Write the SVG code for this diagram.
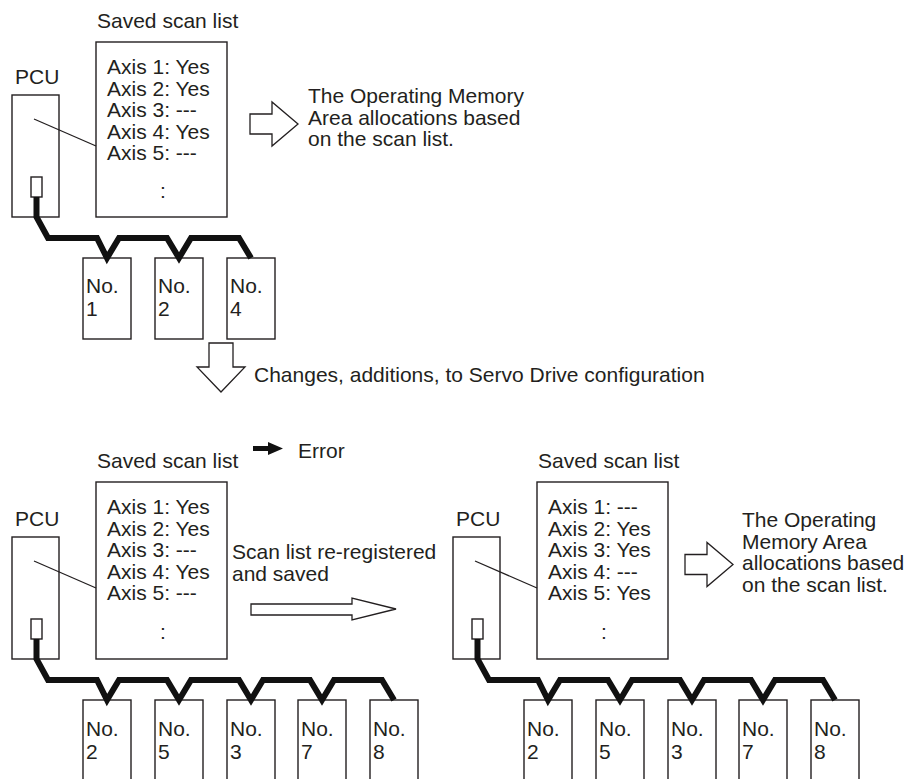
<svg xmlns="http://www.w3.org/2000/svg" width="906" height="779" viewBox="0 0 906 779">
<style>
text{font-family:"Liberation Sans",Arial,Helvetica,sans-serif;font-size:21px;fill:#231f20}
.box{fill:#fff;stroke:#231f20;stroke-width:1.4}
.ln{fill:none;stroke:#231f20;stroke-width:1.3}
.cable{fill:none;stroke:#111;stroke-width:6;stroke-linejoin:miter;stroke-miterlimit:3}
.harrow{fill:#fff;stroke:#231f20;stroke-width:1.3;stroke-linejoin:miter}
</style>
<rect width="906" height="779" fill="#fff"/>

<!-- Top section -->
<g id="top-pcu">
  <text x="15" y="84">PCU</text>
  <rect class="box" x="12" y="95" width="47" height="122"/>
  <rect class="box" x="31" y="177" width="11" height="20"/>
</g>
<g id="top-scanlist">
  <text x="97" y="28">Saved scan list</text>
  <rect class="box" x="96" y="42" width="131" height="175"/>
  <text x="107" y="74">Axis 1: Yes</text>
  <text x="107" y="95.5">Axis 2: Yes</text>
  <text x="107" y="117">Axis 3: ---</text>
  <text x="107" y="138.5">Axis 4: Yes</text>
  <text x="107" y="160">Axis 5: ---</text>
  <text x="160" y="198">:</text>
</g>
<g id="top-servo1"><rect class="box" x="83" y="258" width="48" height="81"/><text x="86" y="293">No.</text><text x="86" y="316">1</text></g>
<g id="top-servo2"><rect class="box" x="155" y="258" width="48" height="81"/><text x="158" y="293">No.</text><text x="158" y="316">2</text></g>
<g id="top-servo4"><rect class="box" x="227" y="258" width="48" height="81"/><text x="230" y="293">No.</text><text x="230" y="316">4</text></g>
<g id="top-result">
  <polygon class="harrow" points="250,114 272,114 272,102 298,124 272,146 272,134 250,134"/>
  <text x="308" y="103">The Operating Memory</text>
  <text x="308" y="124.5">Area allocations based</text>
  <text x="308" y="146">on the scan list.</text>
</g>

<!-- Change arrow -->
<g id="change">
  <polygon class="harrow" points="209,343 233,343 233,367 245,367 221,392 197,367 209,367"/>
  <text x="254" y="382">Changes, additions, to Servo Drive configuration</text>
</g>

<!-- Bottom-left section -->
<g id="bl-pcu">
  <text x="15" y="526">PCU</text>
  <rect class="box" x="12" y="537" width="47" height="122"/>
  <rect class="box" x="31" y="619" width="11" height="20"/>
</g>
<g id="bl-scanlist">
  <text x="97" y="468">Saved scan list</text>
  <rect class="box" x="96" y="482" width="131" height="177"/>
  <text x="107" y="514">Axis 1: Yes</text>
  <text x="107" y="535.5">Axis 2: Yes</text>
  <text x="107" y="557">Axis 3: ---</text>
  <text x="107" y="578.5">Axis 4: Yes</text>
  <text x="107" y="600">Axis 5: ---</text>
  <text x="160" y="639">:</text>
</g>
<g id="error">
  <polygon points="253,446 268,446 268,442 283,448.5 268,455 268,451 253,451" fill="#111"/>
  <text x="298" y="458">Error</text>
</g>
<g id="bl-servo2"><rect class="box" x="83" y="700" width="48" height="90"/><text x="86" y="736">No.</text><text x="86" y="759">2</text></g>
<g id="bl-servo5"><rect class="box" x="155" y="700" width="48" height="90"/><text x="158" y="736">No.</text><text x="158" y="759">5</text></g>
<g id="bl-servo3"><rect class="box" x="227" y="700" width="48" height="90"/><text x="230" y="736">No.</text><text x="230" y="759">3</text></g>
<g id="bl-servo7"><rect class="box" x="298" y="700" width="48" height="90"/><text x="301" y="736">No.</text><text x="301" y="759">7</text></g>
<g id="bl-servo8"><rect class="box" x="370" y="700" width="48" height="90"/><text x="373" y="736">No.</text><text x="373" y="759">8</text></g>

<g id="reregister">
  <text x="232" y="559">Scan list re-registered</text>
  <text x="232" y="581">and saved</text>
  <polygon class="harrow" points="251,604 352,604 352,598 396,609 352,620 352,615 251,615"/>
</g>

<!-- Bottom-right section -->
<g id="br-pcu">
  <text x="456" y="526">PCU</text>
  <rect class="box" x="453" y="537" width="47" height="122"/>
  <rect class="box" x="472" y="619" width="11" height="20"/>
</g>
<g id="br-scanlist">
  <text x="538" y="468">Saved scan list</text>
  <rect class="box" x="537" y="482" width="131" height="177"/>
  <text x="548" y="514">Axis 1: ---</text>
  <text x="548" y="535.5">Axis 2: Yes</text>
  <text x="548" y="557">Axis 3: Yes</text>
  <text x="548" y="578.5">Axis 4: ---</text>
  <text x="548" y="600">Axis 5: Yes</text>
  <text x="601" y="639">:</text>
</g>
<g id="br-servo2"><rect class="box" x="524" y="700" width="48" height="90"/><text x="527" y="736">No.</text><text x="527" y="759">2</text></g>
<g id="br-servo5"><rect class="box" x="596" y="700" width="48" height="90"/><text x="599" y="736">No.</text><text x="599" y="759">5</text></g>
<g id="br-servo3"><rect class="box" x="668" y="700" width="48" height="90"/><text x="671" y="736">No.</text><text x="671" y="759">3</text></g>
<g id="br-servo7"><rect class="box" x="739" y="700" width="48" height="90"/><text x="742" y="736">No.</text><text x="742" y="759">7</text></g>
<g id="br-servo8"><rect class="box" x="811" y="700" width="48" height="90"/><text x="814" y="736">No.</text><text x="814" y="759">8</text></g>
<g id="br-result">
  <polygon class="harrow" points="685,554.5 707,554.5 707,542.5 733,564.5 707,586.5 707,574.5 685,574.5"/>
  <text x="742" y="527">The Operating</text>
  <text x="742" y="548.5">Memory Area</text>
  <text x="742" y="570">allocations based</text>
  <text x="742" y="591.5">on the scan list.</text>
</g>

<!-- Connectors -->
<g id="connectors">
  <line class="ln" x1="34" y1="119" x2="96" y2="146"/>
  <line class="ln" x1="34" y1="561" x2="96" y2="588"/>
  <line class="ln" x1="475" y1="561" x2="537" y2="588"/>
  <path class="cable" d="M36.5,197 L36.5,217 L48,238 L97,238 L107,258 L119,238 L167,238 L179,258 L191,238 L239,238 L251,258"/>
  <path class="cable" d="M36.5,639 L36.5,659 L48,680 L97,680 L107,700 L119,680 L167,680 L179,700 L191,680 L239,680 L251,700 L263,680 L310,680 L322,700 L334,680 L382,680 L394,700"/>
  <path class="cable" d="M477.5,639 L477.5,659 L489,680 L538,680 L548,700 L560,680 L608,680 L620,700 L632,680 L680,680 L692,700 L704,680 L751,680 L763,700 L775,680 L823,680 L835,700"/>
</g>
</svg>
